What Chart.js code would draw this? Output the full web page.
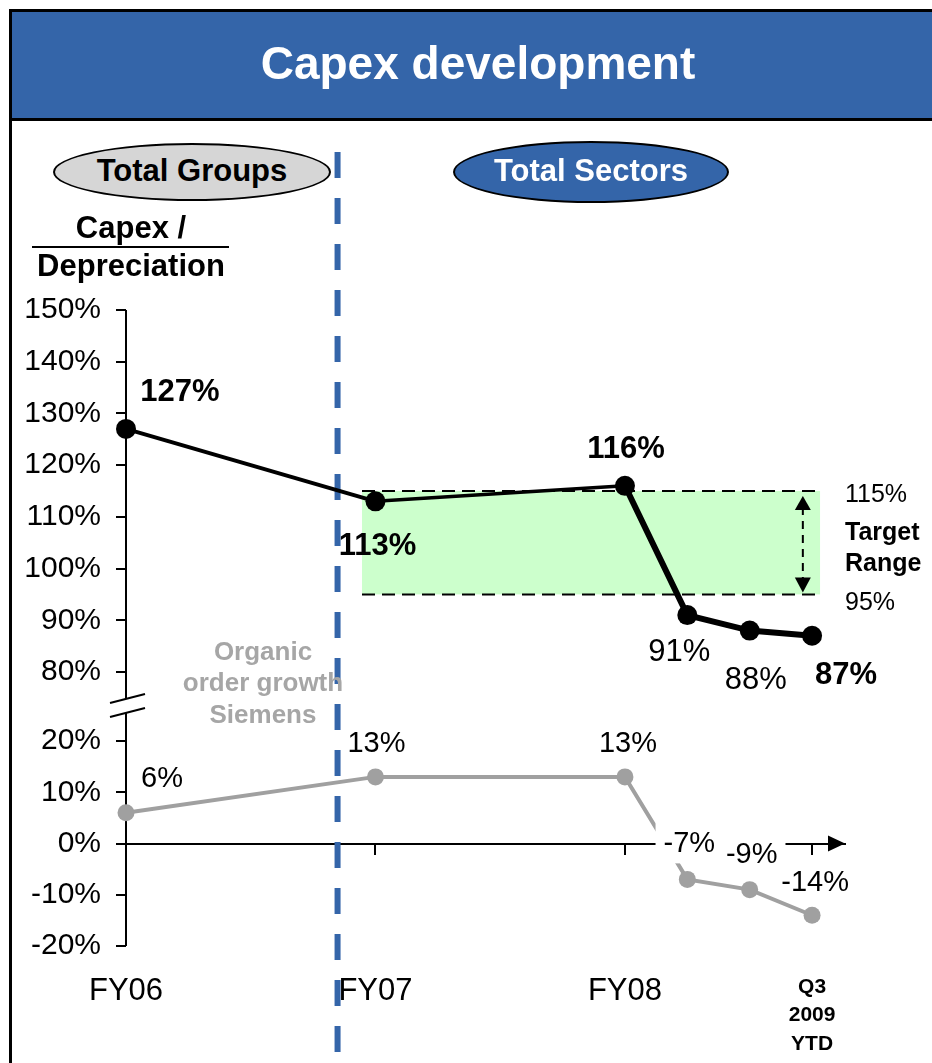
<!DOCTYPE html>
<html>
<head>
<meta charset="utf-8">
<script src="https://cdn.jsdelivr.net/npm/chart.js@4.4.1/dist/chart.umd.min.js"></script>
<style>
html,body{margin:0;padding:0;background:#fff;}
#wrap{position:relative;width:932px;height:1063px;overflow:hidden;font-family:'Liberation Sans',Arial,sans-serif;}
#c{position:absolute;left:0;top:0;}
.abs{position:absolute;white-space:nowrap;}
#frameL{left:9px;top:9px;width:3px;height:1060px;background:#000;}
#titleBox{left:9px;top:9px;width:960px;height:106px;background:#3465A9;border-top:3px solid #000;border-bottom:3px solid #000;}
#title{left:0;top:31px;width:956px;text-align:center;color:#fff;font-weight:bold;font-size:46px;line-height:64px;}
.ell{position:absolute;border:2px solid #000;border-radius:50%;box-sizing:border-box;text-align:center;font-weight:bold;font-size:31px;}
#eg{left:53px;top:143px;width:278px;height:58px;background:#D6D6D6;color:#000;line-height:52px;}
#es{left:453px;top:141px;width:276px;height:62px;background:#3465A9;color:#fff;line-height:56px;}
.hdr{font-weight:bold;font-size:31px;line-height:36px;text-align:center;width:240px;left:11px;color:#000;}
#rule{left:32px;top:246px;width:197px;height:2px;background:#000;}
.org{left:143px;width:240px;text-align:center;color:#A6A6A6;font-weight:bold;font-size:26px;line-height:31px;}
.tgt{left:845px;font-size:25px;line-height:30px;color:#000;}
</style>
</head>
<body>
<div id="wrap">
  <canvas id="c" width="932" height="1063" style="width:932px;height:1063px"></canvas>
  <div class="abs" id="titleBox"></div>
  <div class="abs" id="frameL"></div>
  <div class="abs" id="title">Capex development</div>
  <div class="ell" id="eg">Total Groups</div>
  <div class="ell" id="es">Total Sectors</div>
  <div class="abs hdr" style="top:210px;">Capex /</div>
  <div class="abs" id="rule"></div>
  <div class="abs hdr" style="top:248px;">Depreciation</div>
  <div class="abs org" style="top:636px;">Organic</div>
  <div class="abs org" style="top:667px;">order growth</div>
  <div class="abs org" style="top:699px;">Siemens</div>
  <div class="abs tgt" style="top:478px;">115%</div>
  <div class="abs tgt" style="top:516px;font-weight:bold;">Target</div>
  <div class="abs tgt" style="top:547px;font-weight:bold;">Range</div>
  <div class="abs tgt" style="top:586px;">95%</div>
</div>
<script>
// ---- data ----
const periods = ['FY06', 'FY07', 'FY08', 'Q1 2009', 'H1 2009', 'Q3 2009 YTD'];
const periodPos = [0, 1, 2, 2.25, 2.5, 2.75];           // time position in fiscal years
const labeledPeriods = [0, 1, 2, 5];                      // periods shown on the axis
const capexRatio = [127, 113, 116, 91, 88, 87];          // Capex / Depreciation (%)
const organicGrowth = [6, 13, 13, -7, -9, -14];          // Organic order growth Siemens (%)
const upperTicks = [80, 90, 100, 110, 120, 130, 140, 150];
const lowerTicks = [-20, -10, 0, 10, 20];
const targetRange = [95, 115];

// ---- style / layout ----
const F = "'Liberation Sans', Arial, sans-serif";
const X_MAX = 2.882;
const Y_UPPER_MIN = 27.0, Y_UPPER_MAX = 150;   // upper panel (broken axis)
const Y_LOWER_MIN = -20, Y_LOWER_MAX = 104.1;  // lower panel
const targetBandX = [0.946, 2.782];
const targetArrowX = 2.713;
const dividerX = 0.848;

const labelStyles = [
  { size: 31, color: '#000',
    bold: [true, true, true, false, false, true],
    offsets: [[54, -37], [2, 44], [1, -37], [-8, 36], [6, 49], [34, 39]],
    bg: [false, false, false, false, false, false] },
  { size: 29, color: '#000',
    bold: [false, false, false, false, false, false],
    offsets: [[36, -35], [1, -34], [3, -34], [2, -36], [2, -36], [3, -33]],
    bg: [false, false, false, true, true, false] }
];

// the upper panel's axis shares the slot of the lower panel's axis
const shareAxisSlot = {
  id: 'shareAxisSlot',
  afterLayout(chart) {
    const a = chart.scales.y, b = chart.scales.yU;
    b.left = a.left; b.right = a.right; b.width = a.width;
  }
};

const decor = {
  id: 'decor',
  beforeDatasetsDraw(chart) {
    const { ctx, chartArea } = chart;
    const x = chart.scales.x, y = chart.scales.y, yU = chart.scales.yU;
    const line = (a, b, c, d) => { ctx.beginPath(); ctx.moveTo(a, b); ctx.lineTo(c, d); ctx.stroke(); };
    ctx.save();
    // target band
    const xl = x.getPixelForValue(targetBandX[0]), xr = x.getPixelForValue(targetBandX[1]);
    const yt = yU.getPixelForValue(targetRange[1]), yb = yU.getPixelForValue(targetRange[0]);
    ctx.fillStyle = '#CCFFCC';
    ctx.fillRect(xl, yt, xr - xl, yb - yt);
    ctx.strokeStyle = '#000'; ctx.lineWidth = 2; ctx.setLineDash([13, 7]);
    line(xl, yt, xr, yt); line(xl, yb, xr, yb);
    // double arrow
    const ax = x.getPixelForValue(targetArrowX);
    ctx.setLineDash([8, 6]);
    line(ax, yt + 16, ax, yb - 16);
    ctx.setLineDash([]); ctx.fillStyle = '#000';
    ctx.beginPath(); ctx.moveTo(ax, yt + 5); ctx.lineTo(ax - 8, yt + 19); ctx.lineTo(ax + 8, yt + 19); ctx.closePath(); ctx.fill();
    ctx.beginPath(); ctx.moveTo(ax, yb - 2); ctx.lineTo(ax - 8, yb - 17); ctx.lineTo(ax + 8, yb - 17); ctx.closePath(); ctx.fill();
    // y axis line with break
    const x0 = x.getPixelForValue(0);
    const brkTop = yU.getPixelForValue(80) + 27, brkBot = y.getPixelForValue(20) - 28;
    ctx.lineWidth = 2;
    line(x0, yU.getPixelForValue(150), x0, brkTop);
    line(x0, brkBot, x0, y.getPixelForValue(-20));
    line(x0 - 16, brkTop + 4, x0 + 19, brkTop - 5);
    line(x0 - 16, brkBot + 4, x0 + 19, brkBot - 5);
    // x axis arrow head
    const y0 = y.getPixelForValue(0), xa = chartArea.right;
    ctx.beginPath(); ctx.moveTo(xa, y0); ctx.lineTo(xa - 17, y0 - 8); ctx.lineTo(xa - 17, y0 + 8); ctx.closePath(); ctx.fill();
    // divider between groups and sectors
    const dx = x.getPixelForValue(dividerX);
    ctx.strokeStyle = '#3465A9'; ctx.lineWidth = 6; ctx.setLineDash([26, 20]);
    line(dx, 152, dx, 1063);
    ctx.restore();
  }
};

const valueLabels = {
  id: 'valueLabels',
  afterDatasetsDraw(chart) {
    const ctx = chart.ctx;
    ctx.save();
    chart.data.datasets.forEach((ds, di) => {
      const meta = chart.getDatasetMeta(di);
      const st = labelStyles[di];
      meta.data.forEach((el, i) => {
        const txt = ds.data[i].y + '%';
        ctx.font = (st.bold[i] ? 'bold ' : '') + st.size + 'px ' + F;
        const tx = el.x + st.offsets[i][0], ty = el.y + st.offsets[i][1];
        if (st.bg[i]) {
          const w = ctx.measureText(txt).width + 16;
          ctx.fillStyle = '#fff';
          ctx.fillRect(tx - w / 2, ty - 20, w, 40);
        }
        ctx.fillStyle = st.color; ctx.textAlign = 'center'; ctx.textBaseline = 'middle';
        ctx.fillText(txt, tx, ty + 1);
      });
    });
    ctx.restore();
  }
};

const tickFont = { family: F, size: 30 };

new Chart(document.getElementById('c'), {
  type: 'line',
  data: {
    datasets: [
      {
        label: 'Capex / Depreciation',
        data: periodPos.map((p, i) => ({ x: p, y: capexRatio[i] })),
        xAxisID: 'x', yAxisID: 'yU',
        borderColor: '#000', backgroundColor: '#000',
        borderWidth: 4,
        segment: { borderWidth: c => (c.p0DataIndex >= 2 ? 6 : (c.p0DataIndex === 1 ? 3.5 : 4)) },
        pointRadius: 10, pointHoverRadius: 10, pointBackgroundColor: '#000', pointBorderWidth: 0,
        tension: 0, clip: false
      },
      {
        label: 'Organic order growth Siemens',
        data: periodPos.map((p, i) => ({ x: p, y: organicGrowth[i] })),
        xAxisID: 'x', yAxisID: 'y',
        borderColor: '#A0A0A0', backgroundColor: '#A0A0A0',
        borderWidth: 4,
        pointRadius: 8.5, pointHoverRadius: 8.5, pointBackgroundColor: '#A0A0A0', pointBorderWidth: 0,
        tension: 0, clip: false
      }
    ]
  },
  options: {
    responsive: false,
    devicePixelRatio: 1,
    animation: false,
    events: [],
    layout: { padding: { left: 0, top: 310, right: 87, bottom: 0 } },
    plugins: { legend: { display: false }, tooltip: { enabled: false } },
    scales: {
      x: {
        type: 'linear', axis: 'x', min: 0, max: X_MAX, position: { y: 0 },
        afterBuildTicks: s => { s.ticks = labeledPeriods.map(i => ({ value: periodPos[i] })); },
        ticks: { display: false },
        grid: { drawOnChartArea: false, drawTicks: true, tickLength: 10, color: '#000', lineWidth: 2 },
        border: { display: true, color: '#000', width: 2 }
      },
      xb: {
        type: 'linear', axis: 'x', min: 0, max: X_MAX, position: 'bottom',
        afterBuildTicks: s => { s.ticks = labeledPeriods.map(i => ({ value: periodPos[i] })); },
        afterFit: s => { s.height = 117; },
        ticks: {
          autoSkip: false, maxRotation: 0, padding: 27, color: '#000',
          callback: v => { const t = periods[periodPos.indexOf(v)]; return t.includes(' ') ? t.split(' ') : t; },
          font: c => (c.index === 3 ? { family: F, size: 21, weight: 'bold', lineHeight: 1.35 } : { family: F, size: 31, lineHeight: 1.2 })
        },
        grid: { display: false, drawTicks: false },
        border: { display: false }
      },
      y: {
        type: 'linear', axis: 'y', position: 'left', weight: 10,
        min: Y_LOWER_MIN, max: Y_LOWER_MAX,
        afterBuildTicks: s => { s.ticks = lowerTicks.map(v => ({ value: v })); },
        afterFit: s => { s.width = 126; },
        ticks: { callback: v => v + '%', font: tickFont, color: '#000', padding: 15 },
        grid: { drawOnChartArea: false, tickLength: 10, color: '#000', lineWidth: 2 },
        border: { display: false }
      },
      yU: {
        type: 'linear', axis: 'y', position: 'left', weight: 0,
        min: Y_UPPER_MIN, max: Y_UPPER_MAX,
        afterBuildTicks: s => { s.ticks = upperTicks.map(v => ({ value: v })); },
        afterFit: s => { s.width = 0; },
        ticks: { callback: v => v + '%', font: tickFont, color: '#000', padding: 15 },
        grid: { drawOnChartArea: false, tickLength: 10, color: '#000', lineWidth: 2 },
        border: { display: false }
      }
    }
  },
  plugins: [shareAxisSlot, decor, valueLabels]
});
</script>
</body>
</html>
